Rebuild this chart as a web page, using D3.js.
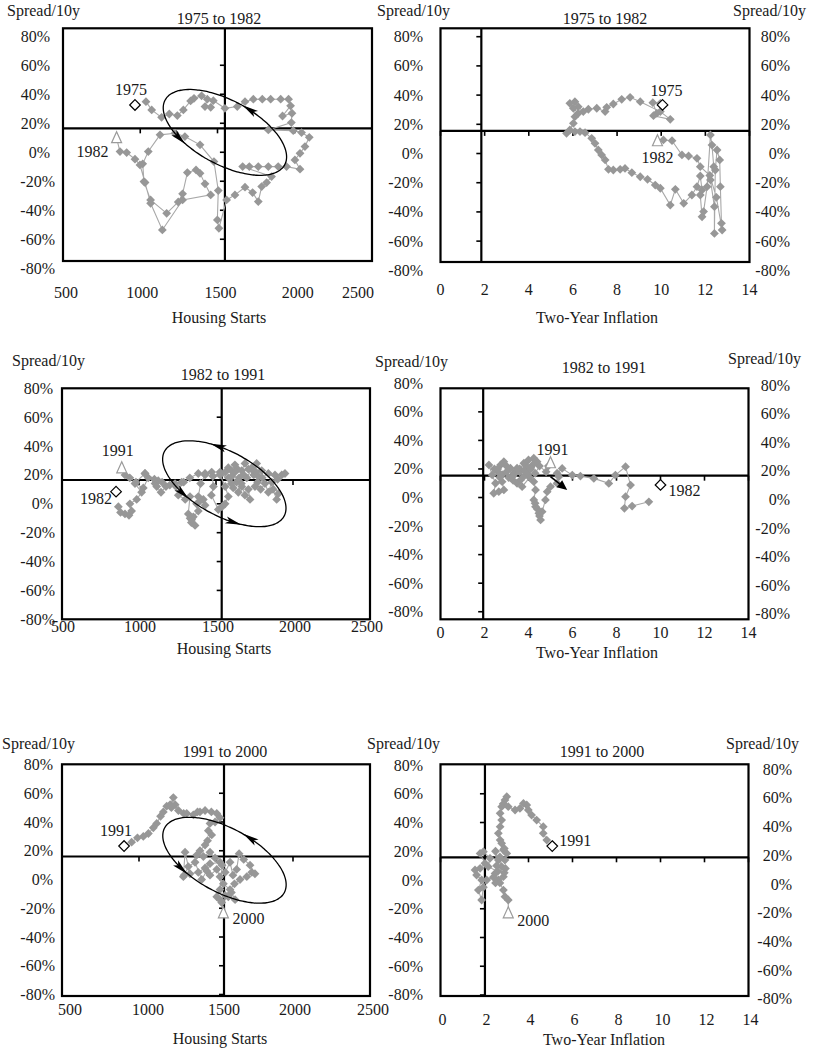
<!DOCTYPE html>
<html><head><meta charset="utf-8">
<script src="https://cdn.jsdelivr.net/npm/d3@7"></script>
<style>
body{margin:0;background:#fff}
</style></head>
<body><svg id="c" width="813" height="1055" font-family="'Liberation Serif', 'DejaVu Serif', serif" font-size="16" fill="#1a1a1a"></svg>
<script>
// ---------- DATA ----------
const spreadTicks = [80,60,40,20,0,-20,-40,-60,-80];
const housingTicks = [500,1000,1500,2000,2500];
const inflationTicks = [0,2,4,6,8,10,12,14];
const titles = ["1975 to 1982","1975 to 1982","1982 to 1991","1982 to 1991","1991 to 2000","1991 to 2000"];

// [housing starts, spread %] 1975-1982
const housing7582 = [[1037,34.9],[1074,29.2],[1138,24.1],[1188,26.4],[1240,25.3],[1279,29.2],[1326,35.4],[1348,37.2],[1397,38.9],[1434,36.6],[1419,31.5],[1456,31],[1473,35.6],[1548,30.3],[1628,31.5],[1678,34.9],[1732,36.6],[1790,36.6],[1844,36.6],[1909,36.6],[1960,36.6],[1973,32],[1921,25],[1982,26.9],[1978,20.5],[1829,15.4],[1990,14.9],[2044,13.6],[2094,10.3],[2066,3.9],[2034,-0.7],[2001,-5.3],[2034,-11.7],[1947,-9.9],[1893,-9.9],[1829,-9.9],[1764,-9.9],[1706,-9.9],[1663,-9.9],[1850,-16.8],[1818,-20.9],[1786,-23.7],[1764,-34],[1727,-27.8],[1678,-24.1],[1613,-29.4],[1559,-32.9],[1509,-52.4],[1499,-46.7],[1505,-26.4],[1477,-6.4],[1387,5.1],[1289,10.8],[1225,13.1],[1128,12],[1052,0.5],[1016,-8],[1024,-20.2],[1067,-32.9],[1171,-42.1],[1246,-34.3],[1274,-28.7],[1305,-14],[1361,-12.2],[1387,-14.5],[1419,-21.8],[1456,-29.4],[1274,-32.9],[1143,-53.6],[1067,-35.2],[1031,-20.9],[998,-8.7],[966,-4.8],[912,-0.2],[869,0.5]];
// [two-year inflation, spread %] 1975-1982
const inflation7582 = [[9.96,34.4],[9.62,34.8],[9.8,27.5],[9.65,25.9],[10.41,23.4],[9.96,28.7],[9.05,35.5],[8.59,38.5],[8.21,37.1],[7.83,33.9],[7.53,31.6],[7.46,28.7],[7.08,31],[6.7,30.3],[6.47,28.7],[6.24,32.1],[6.09,35.5],[5.86,34.4],[6.02,31],[6.24,27.5],[6.09,25.2],[6.02,20.7],[5.86,16.1],[5.71,13.8],[6.09,15],[6.32,15],[6.55,14.3],[6.85,10.4],[7.0,7],[7.15,2.4],[7.3,-1],[7.46,-4.4],[7.61,-10.8],[7.83,-11.3],[8.14,-10.8],[8.36,-10.2],[8.67,-13.1],[9.05,-15.9],[9.38,-17.7],[9.73,-21.6],[9.96,-23.8],[10.41,-35.3],[10.64,-24.5],[11.02,-34.1],[11.39,-28.4],[11.62,-22.7],[11.77,-15.4],[11.85,-25],[11.77,-28.4],[11.85,-43.3],[11.92,-39.8],[12.08,-22.7],[12.23,12.7],[12.3,5.8],[12.38,-9],[12.23,-18.1],[12.41,-36.4],[12.41,-54.7],[12.45,-11.3],[12.53,2.4],[12.65,-4.4],[12.68,-22.7],[12.73,-47.8],[12.76,-52.4],[12.5,-30],[12.2,-15],[11.77,-9],[11.62,-3.3],[11.24,-1.7],[10.94,-1],[10.49,8.8],[10.1,9.3]];
// 1982-1991
const housing8291 = [[866,-2],[880,-6],[909,-7],[935,-8],[952,-5],[941,0],[985,3],[1017,8],[974,14],[1028,11],[1060,18],[1039,21],[1104,14],[1125,16],[1115,12],[1143,8],[1175,12],[1234,14],[1277,15],[1255,6],[1300,3],[1331,5],[1320,-7],[1332,-10],[1340,-13],[1342,-11],[1364,-15],[1353,-9],[1385,-5],[1374,0],[1396,2],[1418,3],[1429,-1],[1385,5],[1400,14],[1429,20],[1472,22],[1483,12],[1470,6],[1515,-4],[1540,-2],[1559,0],[1580,5],[1560,12],[1526,20],[1560,22],[1580,25],[1600,23],[1623,27],[1602,19],[1634,15],[1612,11],[1645,8],[1665,14],[1688,6],[1721,3],[1710,10],[1667,12],[1650,18],[1667,23],[1688,28],[1710,24],[1732,25],[1745,20],[1764,28],[1797,23],[1775,19],[1753,12],[1770,15],[1790,10],[1818,14],[1840,8],[1862,15],[1905,7],[1894,3],[1870,10],[1883,20],[1927,20],[1948,21],[1900,17],[1840,21],[1800,18],[1760,22],[1732,24],[1700,18],[1680,20],[1640,24],[1623,22],[1580,18],[1600,14],[1526,22],[1480,19],[1429,21],[1385,21],[1330,18],[1290,15],[1240,12],[1200,13],[1150,15],[1100,17],[1039,21],[980,15],[940,18],[909,20]];
const inflation8291 = [[9.47,-3],[8.71,-6],[8.36,-7.6],[8.41,0.6],[8.64,8.7],[8.41,21.6],[7.95,15.7],[7.65,9.9],[6.97,13.4],[6.36,15],[5.99,15.7],[5.53,20.4],[5.3,17],[5.38,14.6],[5.3,10],[5.0,7.6],[4.85,4.1],[4.77,-1.7],[4.62,-9.9],[4.55,-15.7],[4.5,-13],[4.47,-11],[4.4,-8],[4.32,-6.4],[4.3,-4],[4.24,-1.7],[4.32,5.3],[4.24,11.1],[4.05,14],[3.71,7.6],[3.48,10],[3.3,12],[3.64,12.3],[3.8,15],[3.94,17],[4.1,21],[4.2,23],[4.39,25.1],[4.24,27.5],[4.0,26.3],[3.9,22],[3.79,24],[3.6,20],[3.48,20.5],[3.33,17],[3.18,20.5],[3.0,22],[2.88,25.1],[2.73,22.8],[2.6,18],[2.7,14],[2.8,11.1],[2.88,5.3],[2.65,4.1],[2.42,3],[2.5,10],[2.35,15.8],[2.2,22.8],[2.45,20],[2.6,20],[2.8,16],[3.0,18],[3.1,14],[3.3,15],[3.45,18],[3.6,18],[3.8,19],[4.1,20],[4.3,17],[4.5,22],[4.8,18],[4.9,22]];
// 1991-2000
const housing9100 = [[952,26],[990,29],[1028,30],[1061,32],[1093,36],[1115,39],[1140,44],[1158,47],[1180,51],[1202,52],[1223,57],[1210,50],[1235,52],[1256,48],[1290,46],[1310,46],[1353,45],[1380,47],[1396,47],[1429,48],[1470,47],[1505,46],[1526,43],[1494,40],[1461,39],[1450,34],[1472,31],[1445,27],[1429,24],[1396,20],[1375,17],[1418,16],[1461,19],[1494,15],[1526,12],[1461,11],[1429,8],[1385,5],[1331,4],[1299,19],[1288,2],[1293,3],[1320,9],[1364,12],[1407,0],[1440,6],[1461,3],[1505,7],[1526,2],[1548,-3],[1591,-7],[1620,-3],[1656,0],[1700,2],[1732,5],[1753,4],[1721,10],[1680,14],[1650,18],[1634,7],[1610,3],[1591,12],[1560,5],[1540,10],[1526,-7],[1505,-12],[1526,-14],[1559,-11],[1600,-9],[1624,-14],[1580,-12],[1537,-16]];
const inflation9100 = [[4.83,27.8],[4.67,32.5],[4.67,37.1],[4.37,41.7],[4.14,45.2],[3.99,48.7],[3.92,52.2],[3.77,53.3],[3.61,49.8],[3.39,48.7],[3.08,51],[2.93,55.6],[3.01,58],[2.85,53],[2.78,51],[2.71,46.4],[2.78,41.7],[2.71,37.1],[2.63,32.5],[2.71,27.8],[2.78,25.5],[2.86,20.8],[2.9,22],[3.01,18.5],[2.93,13.9],[2.7,16],[2.78,9.3],[2.63,13.9],[2.5,20],[2.55,10],[2.48,4.6],[2.63,0],[2.86,2.3],[2.9,5],[2.95,8],[2.6,6],[2.17,9.3],[2.25,15.1],[1.95,19.7],[1.8,18.5],[2.02,11.6],[1.8,8.1],[1.57,7],[1.64,3.5],[1.87,0],[1.72,-7],[1.87,-13.9],[1.95,-5],[2.1,0],[2.4,2],[2.5,-2],[2.7,-2],[2.86,-7],[2.93,-11.6],[3.08,-13.9]];

// start / end markers
const startPoints = [[966,32.6],[10.06,33.3],[851,8.4],[10.0,8.8],[903,23.3],[5.08,23.6]];
const endPoints   = [[847,9.7],[9.83,8.4],[888,24.6],[5.0,24],[1548,-23.5],[3.08,-23.2]];
const startYears  = ["1975","1975","1982","1982","1991","1991"];
const endYears    = ["1982","1982","1991","1991","2000","2000"];

// ---------- LAYOUT ----------
const series = [housing7582, inflation7582, housing8291, inflation8291, housing9100, inflation9100];
const panels = [
 {box:[63,372,28.3,261], xd:[500,2500], yd:[-75,85.5], cross:[1548,16.5], xt:housingTicks, vt:[60,40,20,0,-20,-40,-60],
  xlY:298, xlDx:[3,2,3,3,-14], xTitle:"Housing Starts", xTitleP:[219,323], titleP:[219,24], spL:[7,16], spR:null,
  left:[50,55], right:null, rDy:0, sLab:{dx:-4,dy:-10,a:"middle"}, eLab:{dx:-8,dy:19,a:"end"},
  ell:{cx:1548,cy:13.7,arrows:[-81,123]}},
 {box:[440.5,749.5,28.3,262], xd:[0,14], yd:[-74.3,85.75], cross:[1.85,15.5], xt:inflationTicks, vt:[80,60,40,20,0,-20,-40,-60],
  xlY:295, xlDx:[0,0,0,0,0,0,0,0], xTitle:"Two-Year Inflation", xTitleP:[597,323], titleP:[605,24], spL:[377,16], spR:[733,16],
  left:[423,423], right:790, rDy:0, sLab:{dx:4,dy:-9,a:"middle"}, eLab:{dx:0,dy:22,a:"middle"}},
 {box:[62,370,388.3,619.3], xd:[500,2500], yd:[-80,80], cross:[1537,16.5], xt:housingTicks, vt:[60,40,20,0,-20,-40,-60],
  xlY:632, xlDx:[1,1,2,2,-3], xTitle:"Housing Starts", xTitleP:[224,654], titleP:[223,380], spL:[12,366], spR:null,
  left:[53,55], right:null, rDy:0, sLab:{dx:-4,dy:12,a:"end"}, eLab:{dx:-4,dy:-12,a:"middle"},
  ell:{cx:1554,cy:13.9,arrows:[-110,67,118]}},
 {box:[440.5,748.5,388.3,619.3], xd:[0,14], yd:[-85.3,76.5], cross:[1.94,15.3], xt:inflationTicks, vt:[60,40,20,0,-20,-40,-60,-80],
  xlY:638, xlDx:[0,0,0,0,0,0,0,0], xTitle:"Two-Year Inflation", xTitleP:[597,658], titleP:[604,373], spL:[375,367], spR:[728,364],
  left:[423,423], right:790, rDy:2, sLab:{dx:8,dy:11,a:"start"}, eLab:{dx:2,dy:-8,a:"middle"},
  trend:[[5.0,14.6],[5.76,5.3]]},
 {box:[62,370,764.3,996], xd:[500,2500], yd:[-81.04,80.14], cross:[1552,16], xt:housingTicks, vt:[60,40,20,0,-20,-40,-60,-80],
  xlY:1015, xlDx:[8,9,8,2,3], xTitle:"Housing Starts", xTitleP:[220,1044], titleP:[225,757], spL:[2,749], spR:null,
  left:[53,55], right:null, rDy:0, sLab:{dx:-8,dy:-10,a:"middle"}, eLab:{dx:9,dy:11,a:"start"},
  ell:{cx:1555,cy:13.4,arrows:[-80,120]}},
 {box:[440.5,748.5,764.3,996], xd:[0,14], yd:[-80.7,80.5], cross:[2.02,15.8], xt:inflationTicks, vt:[60,40,20,0,-20,-40,-60,-80],
  xlY:1025, xlDx:[2,2,2,2,2,2,2,2], xTitle:"Two-Year Inflation", xTitleP:[604,1045], titleP:[602,757], spL:[367,749], spR:[726,749],
  left:[423,423], right:792, rDy:4, sLab:{dx:7,dy:0,a:"start"}, eLab:{dx:9,dy:13,a:"start"}}
];

const svg = d3.select("#c");
const ELL = {a:68, b:32, rot:28.5};
const diamond = r => `M0,${-r}L${r},0L0,${r}L${-r},0Z`;

panels.forEach((p,i) => {
  const [x0,x1,y0,y1] = p.box;
  const x = d3.scaleLinear().domain(p.xd).range([x0,x1]);
  const y = d3.scaleLinear().domain(p.yd).range([y1,y0]);
  const g = svg.append("g");
  const cx = x(p.cross[0]), cy = y(p.cross[1]);

  g.append("rect").attr("x",x0).attr("y",y0).attr("width",x1-x0).attr("height",y1-y0)
    .attr("fill","none").attr("stroke","#000").attr("stroke-width",2.2);
  g.append("line").attr("x1",cx).attr("x2",cx).attr("y1",y0).attr("y2",y1).attr("stroke","#000").attr("stroke-width",2.2);
  g.append("line").attr("x1",x0).attr("x2",x1).attr("y1",cy).attr("y2",cy).attr("stroke","#000").attr("stroke-width",2.2);
  g.selectAll(".vt").data(p.vt).enter().append("line")
    .attr("x1",cx-5).attr("x2",cx).attr("y1",d=>y(d)).attr("y2",d=>y(d)).attr("stroke","#000").attr("stroke-width",1.6);
  g.selectAll(".ht").data(p.xt).enter().append("line")
    .attr("x1",d=>x(d)).attr("x2",d=>x(d)).attr("y1",cy).attr("y2",cy+5).attr("stroke","#000").attr("stroke-width",1.6);

  g.selectAll(".xl").data(p.xt).enter().append("text")
    .attr("x",(d,k)=>x(d)+p.xlDx[k]).attr("y",p.xlY).attr("text-anchor","middle").text(d=>d);
  g.selectAll(".yl").data(spreadTicks).enter().append("text")
    .attr("x",d=> d<0 ? p.left[1] : p.left[0]).attr("y",d=>y(d)+5.5).attr("text-anchor","end").text(d=>d+"%");
  if (p.right) {
    g.selectAll(".yr").data(spreadTicks).enter().append("text")
      .attr("x",p.right).attr("y",d=>y(d)+5.5+p.rDy).attr("text-anchor","end").text(d=>d+"%");
  }
  g.append("text").attr("x",p.titleP[0]).attr("y",p.titleP[1]).attr("text-anchor","middle").text(titles[i]);
  g.append("text").attr("x",p.spL[0]).attr("y",p.spL[1]).text("Spread/10y");
  if (p.spR) g.append("text").attr("x",p.spR[0]).attr("y",p.spR[1]).text("Spread/10y");
  g.append("text").attr("x",p.xTitleP[0]).attr("y",p.xTitleP[1]).attr("text-anchor","middle").text(p.xTitle);

  const data = series[i];
  g.append("path").datum(data)
    .attr("d", d3.line().x(d=>x(d[0])).y(d=>y(d[1])))
    .attr("fill","none").attr("stroke","#a8a8a8").attr("stroke-width",1.1);
  g.append("path").datum([data[data.length-1], endPoints[i]])
    .attr("d", d3.line().x(d=>x(d[0])).y(d=>y(d[1])))
    .attr("fill","none").attr("stroke","#a8a8a8").attr("stroke-width",1.1);
  g.selectAll(".pt").data(data).enter().append("path")
    .attr("d",diamond(4.4)).attr("transform",d=>`translate(${x(d[0])},${y(d[1])})`)
    .attr("fill","#979797").attr("stroke","none");

  const sp = startPoints[i], ep = endPoints[i];
  g.append("path").attr("d",diamond(5.3)).attr("transform",`translate(${x(sp[0])},${y(sp[1])})`)
    .attr("fill","#fff").attr("stroke","#000").attr("stroke-width",1.2);
  g.append("path").attr("d","M0,-6.5L5,4.5L-5,4.5Z").attr("transform",`translate(${x(ep[0])},${y(ep[1])})`)
    .attr("fill","#fff").attr("stroke","#9a9a9a").attr("stroke-width",1.2);
  g.append("text").attr("x",x(sp[0])+p.sLab.dx).attr("y",y(sp[1])+p.sLab.dy).attr("text-anchor",p.sLab.a).text(startYears[i]);
  g.append("text").attr("x",x(ep[0])+p.eLab.dx).attr("y",y(ep[1])+p.eLab.dy).attr("text-anchor",p.eLab.a).text(endYears[i]);

  if (p.ell) {
    const ecx = x(p.ell.cx), ecy = y(p.ell.cy);
    const th = ELL.rot*Math.PI/180, ct=Math.cos(th), st=Math.sin(th);
    const pt = t => [ecx + ELL.a*Math.cos(t)*ct - ELL.b*Math.sin(t)*st, ecy + ELL.a*Math.cos(t)*st + ELL.b*Math.sin(t)*ct];
    const ts = d3.range(0, 360, 3).map(d=>d*Math.PI/180);
    g.append("path").datum(ts).attr("d", d3.line().x(t=>pt(t)[0]).y(t=>pt(t)[1]).curve(d3.curveCardinalClosed))
      .attr("fill","none").attr("stroke","#000").attr("stroke-width",1.3);
    p.ell.arrows.forEach(deg => {
      const t = deg*Math.PI/180;
      const [px,py] = pt(t);
      let lx = ELL.a*Math.sin(t), ly = -ELL.b*Math.cos(t);
      let dx = lx*ct - ly*st, dy = lx*st + ly*ct;
      const L = Math.hypot(dx,dy); dx/=L; dy/=L;
      const nx=-dy, ny=dx, len=8, w=3.6;
      const tip=[px+dx*len,py+dy*len], b=[px-dx*len,py-dy*len];
      g.append("path").attr("d",`M${tip}L${b[0]+nx*w},${b[1]+ny*w}L${px-dx*len*0.55},${py-dy*len*0.55}L${b[0]-nx*w},${b[1]-ny*w}Z`)
        .attr("fill","#000");
    });
  }
  if (p.trend) {
    const [a,b] = p.trend;
    const ax=x(a[0]), ay=y(a[1]), bx=x(b[0]), by=y(b[1]);
    let dx=bx-ax, dy=by-ay; const L=Math.hypot(dx,dy); dx/=L; dy/=L;
    const nx=-dy, ny=dx, hl=10, w=4.5;
    g.append("line").attr("x1",ax).attr("y1",ay).attr("x2",bx-dx*hl*0.6).attr("y2",by-dy*hl*0.6).attr("stroke","#000").attr("stroke-width",1.6);
    g.append("path").attr("d",`M${bx},${by}L${bx-dx*hl+nx*w},${by-dy*hl+ny*w}L${bx-dx*hl-nx*w},${by-dy*hl-ny*w}Z`).attr("fill","#000");
  }
});
</script>
</body></html>
